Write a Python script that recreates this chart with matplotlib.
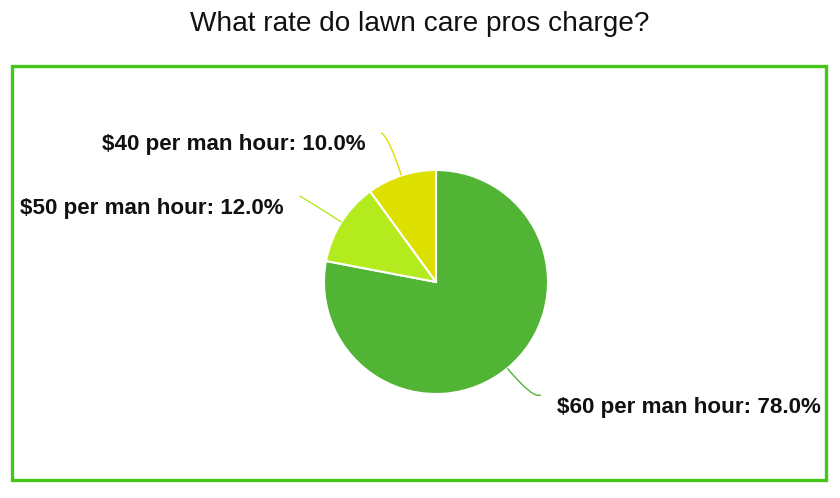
import numpy as np
import matplotlib
matplotlib.use("Agg")
import matplotlib.pyplot as plt
from matplotlib.patches import Rectangle, PathPatch
from matplotlib.path import Path

title = "What rate do lawn care pros charge?"
categories = ["$60 per man hour", "$50 per man hour", "$40 per man hour"]
shares = [78.0, 12.0, 10.0]
colors = ["#52b434", "#b3eb1e", "#dde000"]

plt.rcParams['font.family'] = ['Liberation Sans', 'DejaVu Sans']

W, H = 840, 498
fig = plt.figure(figsize=(W / 100, H / 100), dpi=100)
fig.patch.set_facecolor("white")

# border frame
fig.add_artist(Rectangle((12 / W, 1 - 480 / H), (826 - 12) / W, (480 - 66) / H,
                         transform=fig.transFigure, fill=False,
                         edgecolor="#44c51a", linewidth=2.4))
fig.text(0.5, 1 - 24 / H, title, ha="center", va="center", fontsize=20.2, color="#111111")

# pie axes: center (436,282), radius 112 px
R = 112
cx, cy = 436, 282
ax = fig.add_axes([(cx - 2 * R) / W, 1 - (cy + 2 * R) / H, 4 * R / W, 4 * R / H])

wedges, _ = ax.pie(shares, colors=colors, startangle=90, counterclock=False,
                   radius=1.0, center=(0, 0), frame=True,
                   wedgeprops=dict(edgecolor="white", linewidth=1.5))
ax.set_xlim(-2, 2)
ax.set_ylim(-2, 2)
ax.set_aspect("equal")
ax.axis("off")

for w, cat, val, col in zip(wedges, categories, shares, colors):
    mid = np.deg2rad((w.theta1 + w.theta2) / 2)
    ca, sa = np.cos(mid), np.sin(mid)
    side = 1 if ca >= 0 else -1
    S = (ca, sa)
    C = (1.36 * ca, 1.36 * sa)
    E = (C[0] + side * 0.07, C[1] + 0.04)
    path = Path([S, C, E], [Path.MOVETO, Path.CURVE3, Path.CURVE3])
    ax.add_patch(PathPatch(path, fill=False, edgecolor=col, linewidth=1.0, clip_on=False))
    ax.text(E[0] + side * 0.14, E[1] - 0.11, f"{cat}: {val:.1f}%",
            ha="left" if side > 0 else "right", va="center",
            fontsize=16.1, fontweight="bold", color="#111111", clip_on=False)

fig.savefig("out.png", dpi=100, facecolor="white")
